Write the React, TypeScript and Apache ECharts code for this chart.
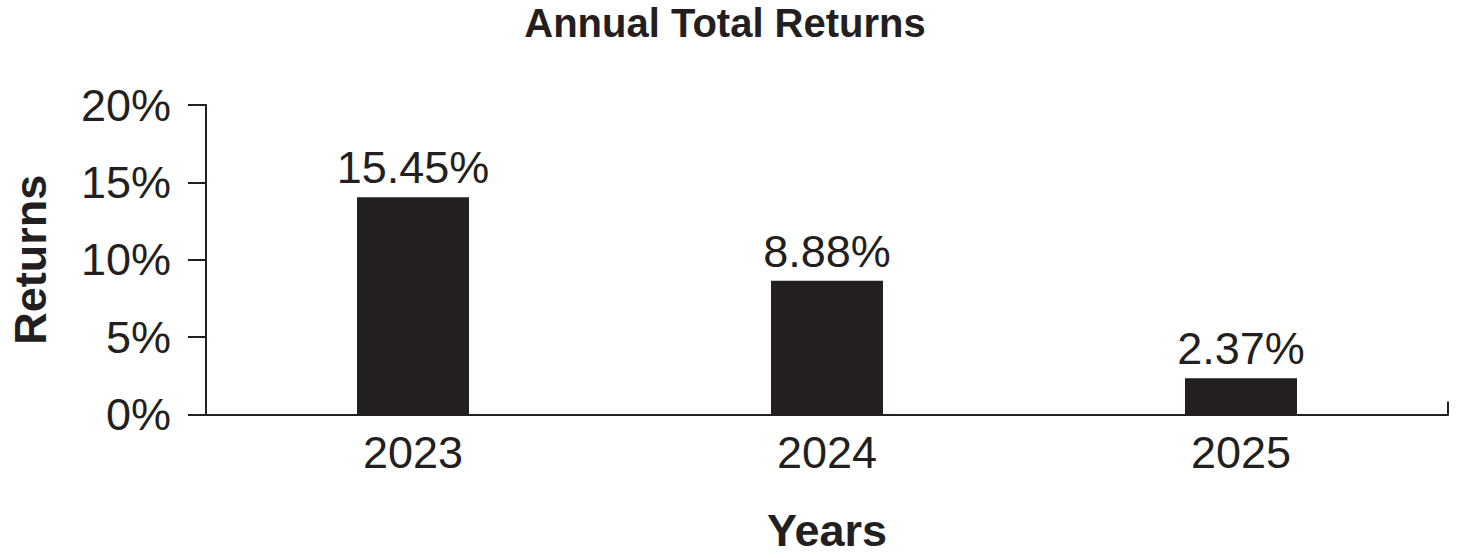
import { useEffect, useRef } from 'react';
import * as echarts from 'echarts';

const years = ['2023', '2024', '2025'];
// bar heights as drawn in the picture (percent)
const barValues = [14.04, 8.65, 2.34];
// labels printed above the bars
const barLabels = ['15.45%', '8.88%', '2.37%'];
const yMin = 0;
const yMax = 20;
const yStep = 5;

const INK = '#231f20';
const FONT = '"Liberation Sans", Arial, Helvetica, sans-serif';

export default function App() {
  const chartRef = useRef<HTMLDivElement>(null);

  useEffect(() => {
    if (!chartRef.current) return;
    const chart = echarts.init(chartRef.current, undefined, { renderer: 'svg' });

    chart.setOption({
      animation: false,
      backgroundColor: '#fff',
      textStyle: { fontFamily: FONT, color: INK },
      title: {
        text: 'Annual Total Returns',
        left: 725,
        top: 6,
        textAlign: 'center',
        padding: 0,
        textStyle: { fontFamily: FONT, fontSize: 40, lineHeight: 34, fontWeight: 'bold', color: INK },
      },
      grid: { left: 198, right: 10, top: 105, bottom: 134 },
      xAxis: {
        type: 'category',
        data: years,
        name: 'Years',
        nameLocation: 'middle',
        nameGap: 99,
        nameTextStyle: { fontFamily: FONT, fontSize: 45, lineHeight: 34, fontWeight: 'bold', color: INK },
        axisLine: { lineStyle: { color: INK, width: 2 } },
        // a single tick index gives ticks at the two ends of the axis
        axisTick: {
          show: true,
          inside: true,
          length: 13,
          interval: (i: number) => i === 0,
          lineStyle: { color: INK, width: 2 },
        },
        axisLabel: { fontFamily: FONT, fontSize: 45, color: INK, margin: 15 },
      },
      yAxis: {
        type: 'value',
        min: yMin,
        max: yMax,
        interval: yStep,
        name: 'Returns',
        nameLocation: 'middle',
        nameGap: 153,
        nameTextStyle: { fontFamily: FONT, fontSize: 45, fontWeight: 'bold', color: INK },
        axisLine: { show: true, lineStyle: { color: INK, width: 2 } },
        axisTick: { show: true, length: 18, lineStyle: { color: INK, width: 2 } },
        splitLine: { show: false },
        axisLabel: {
          fontFamily: FONT,
          fontSize: 45,
          color: INK,
          margin: 35,
          padding: [0, 0, 6, 0],
          formatter: '{value}%',
        },
      },
      series: [
        {
          type: 'bar',
          data: barValues,
          barWidth: 112,
          itemStyle: { color: INK },
          label: {
            show: true,
            position: 'top',
            distance: 7,
            fontFamily: FONT,
            fontSize: 45,
            color: INK,
            formatter: (p: any) => barLabels[p.dataIndex],
          },
        },
      ],
    });

    const handleResize = () => chart.resize();
    window.addEventListener('resize', handleResize);
    return () => {
      window.removeEventListener('resize', handleResize);
      chart.dispose();
    };
  }, []);

  return (
    <div
      ref={chartRef}
      style={{ position: 'fixed', left: 0, top: 0, width: 1458, height: 558 }}
    />
  );
}
